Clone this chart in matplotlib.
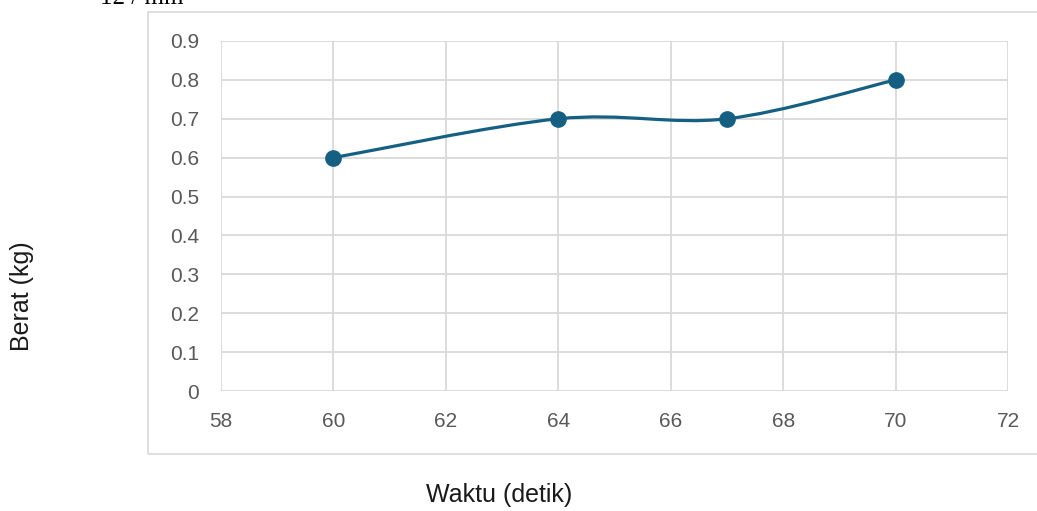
import matplotlib
matplotlib.use("Agg")
import matplotlib.pyplot as plt
from matplotlib.path import Path
from matplotlib.patches import PathPatch, Rectangle

waktu = [60, 64, 67, 70]
berat = [0.6, 0.7, 0.7, 0.8]
x_ticks = [58, 60, 62, 64, 66, 68, 70, 72]
y_ticks = [0, 0.1, 0.2, 0.3, 0.4, 0.5, 0.6, 0.7, 0.8, 0.9]
y_tick_labels = ["0", "0.1", "0.2", "0.3", "0.4", "0.5", "0.6", "0.7", "0.8", "0.9"]

W, H = 1037, 511
fig = plt.figure(figsize=(W / 100, H / 100), dpi=100)
fig.patch.set_facecolor("white")

# outer chart-area frame
fig.patches.append(Rectangle((148 / W, 1 - 454 / H), (W + 20 - 148) / W, (454 - 12) / H,
                             transform=fig.transFigure, fill=False,
                             edgecolor="#d9d9d9", linewidth=1.2))

ax = fig.add_axes([221 / W, 1 - 391 / H, (1008 - 221) / W, (391 - 41) / H])
ax.set_xlim(58, 72)
ax.set_ylim(0, 0.9)
ax.set_xticks(x_ticks)
ax.set_yticks(y_ticks)
ax.set_yticklabels(y_tick_labels)
ax.grid(True, color="#d9d9d9", linewidth=1.3)
ax.set_axisbelow(True)
for s in ax.spines.values():
    s.set_visible(False)
ax.tick_params(length=0, labelsize=15, labelcolor="#595959")
ax.tick_params(axis="x", pad=15)
ax.tick_params(axis="y", pad=16)
for lab in ax.get_xticklabels() + ax.get_yticklabels():
    lab.set_fontfamily("Liberation Sans")

# Excel-style smoothed line (Catmull-Rom Bezier through the data points)
pts = list(zip(waktu, berat))
verts = [pts[0]]
codes = [Path.MOVETO]
n = len(pts)
for i in range(n - 1):
    p0 = pts[i - 1] if i > 0 else pts[i]
    p1 = pts[i]
    p2 = pts[i + 1]
    p3 = pts[i + 2] if i + 2 < n else pts[i + 1]
    c1 = (p1[0] + (p2[0] - p0[0]) / 6, p1[1] + (p2[1] - p0[1]) / 6)
    c2 = (p2[0] - (p3[0] - p1[0]) / 6, p2[1] - (p3[1] - p1[1]) / 6)
    verts += [c1, c2, p2]
    codes += [Path.CURVE4] * 3
ax.add_patch(PathPatch(Path(verts, codes), facecolor="none",
                       edgecolor="#156082", linewidth=2.3, zorder=3))
ax.plot(waktu, berat, linestyle="none", marker="o", markersize=11,
        color="#156082", zorder=4)

fig.text(499 / W, 1 - 495 / H, "Waktu (detik)", ha="center", va="center",
         fontsize=18, color="#1a1a1a", fontfamily="Liberation Sans")
fig.text(22 / W, 1 - 296 / H, "Berat (kg)", ha="center", va="center",
         rotation=90, fontsize=18, color="#1a1a1a", fontfamily="Liberation Sans")
fig.text(100 / W, 1 - 4 / H, "12 / mm", ha="left", va="baseline",
         fontsize=18, color="black", fontfamily="Liberation Serif")

fig.savefig("out.png", dpi=100, facecolor="white")
